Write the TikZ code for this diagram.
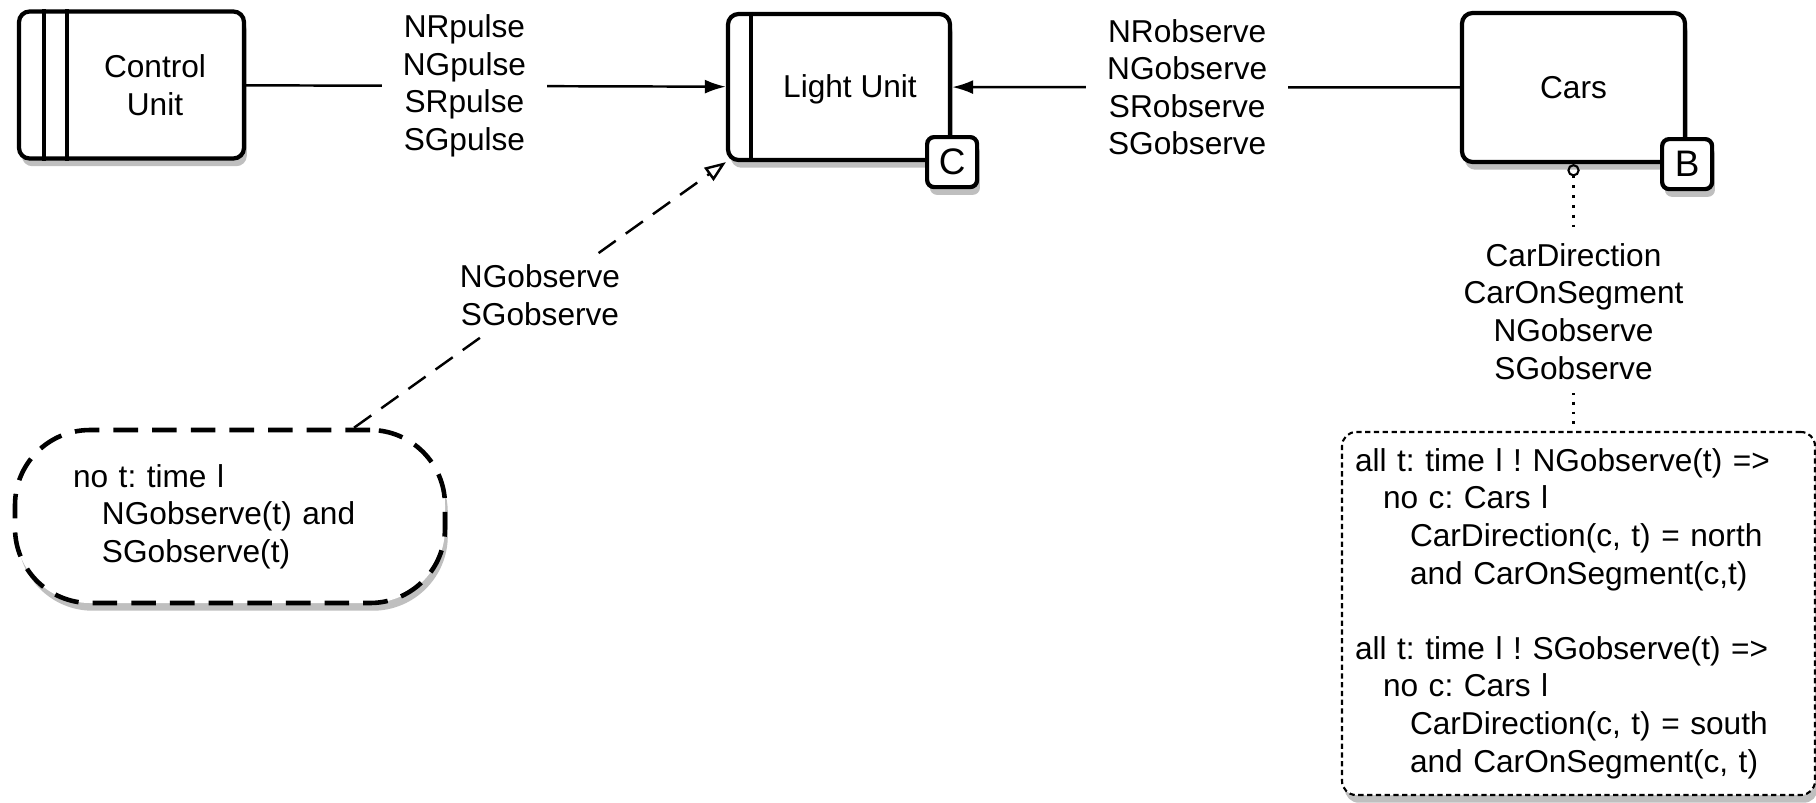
\documentclass[tikz,border=0pt]{standalone}
\usepackage{fontspec}
\setmainfont{Liberation Sans}
\usetikzlibrary{arrows.meta,shadows}
\frenchspacing

\begin{document}
\begin{tikzpicture}[
  font=\fontsize{9}{10.7}\selectfont,
  every node/.style={align=center},
  softshadow/.style={drop shadow={fill=black, opacity=0.25,
                     shadow xshift=0.8pt, shadow yshift=-2.2pt}},
  unit/.style={draw, line width=1.2pt, rounded corners=3pt, fill=white, softshadow,
               minimum width=2.25cm, minimum height=1.47cm},
  tag/.style={draw, line width=1.2pt, rounded corners=2pt, fill=white, softshadow,
              minimum size=0.5cm, inner sep=0pt, font=\fontsize{10.5}{12}\selectfont},
  bubble/.style={draw, line width=1.3pt, dash pattern=on 7pt off 4pt,
                 rounded corners=0.75cm, fill=white, softshadow, align=left,
                 minimum height=1.73cm, text width=3.14cm, inner xsep=0.58cm},
  note/.style={draw, line width=0.6pt, dash pattern=on 1.5pt off 1pt,
               rounded corners=4pt, fill=white, softshadow, align=left,
               minimum height=3.63cm, text width=4.47cm, inner xsep=0.13cm},
  lbl/.style={fill=white, inner xsep=6pt, inner ysep=2pt},
  arr/.style={-{Latex[length=6pt,width=4pt]}, line width=0.7pt},
  dep/.style={-{Triangle[open,length=6pt,width=4.5pt]}, line width=0.7pt,
              dash pattern=on 6pt off 3.5pt},
  dotline/.style={line width=0.8pt, dotted}
]
\useasboundingbox (0,0) rectangle (18.16,-8.02);

\node[unit] (cu) at (1.315,-0.85) {};
\draw[line width=1.2pt] ([xshift=0.27cm]cu.north west) -- ([xshift=0.27cm]cu.south west)
  ([xshift=0.50cm]cu.north west) -- ([xshift=0.50cm]cu.south west);
\node (cutext) at (1.55,-0.85) {Control\\Unit};

\node[unit, minimum width=2.22cm, minimum height=1.46cm] (lu) at (8.39,-0.87) {};
\draw[line width=1.2pt] ([xshift=0.25cm]lu.north west) -- ([xshift=0.25cm]lu.south west);
\node (lutext) at (8.50,-0.89) {Light Unit};
\node[tag] (c) at (lu.south east) {C};

\node[unit, minimum width=2.23cm, minimum height=1.49cm] (cars) at (15.735,-0.875) {Cars};
\node[tag] (b) at (cars.south east) {B};

\node[bubble] (bub) at (2.30,-5.165) {no t: time l\\
  \hspace*{0.29cm}NGobserve(t) and\\
  \hspace*{0.29cm}SGobserve(t)};

\node[note] (spec) at (15.785,-6.135) {all t: time l ! NGobserve(t) =>\\
  \hspace*{0.28cm}no c: Cars l\\
  \hspace*{0.55cm}CarDirection(c, t) = north\\
  \hspace*{0.55cm}and CarOnSegment(c,t)\\[10.7pt]
  all t: time l ! SGobserve(t) =>\\
  \hspace*{0.28cm}no c: Cars l\\
  \hspace*{0.55cm}CarDirection(c, t) = south\\
  \hspace*{0.55cm}and CarOnSegment(c, t)};

\draw[arr] (cu) -- node[lbl, pos=0.455] {NRpulse\\NGpulse\\SRpulse\\SGpulse} (lu);
\draw[arr] (cars) -- node[lbl, pos=0.537] {NRobserve\\NGobserve\\SRobserve\\SGobserve} (lu);
\draw[dep] (bub) -- node[lbl, inner xsep=2pt] {NGobserve\\SGobserve} (lu.south west);
\draw[dotline, {Circle[open,length=3.5pt,width=3.5pt,line width=0.6pt]}-] (cars.south)
  -- node[lbl, pos=0.552, inner ysep=4pt] {CarDirection\\CarOnSegment\\NGobserve\\SGobserve}
  (spec.north -| cars.south);
\end{tikzpicture}
\end{document}
